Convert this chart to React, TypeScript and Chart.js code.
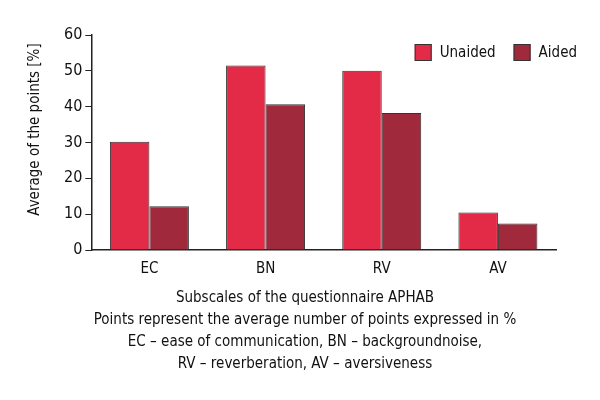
import React, { useEffect, useRef } from "react";
import { Chart, registerables } from "chart.js";

Chart.register(...registerables);

const categories = ["EC", "BN", "RV", "AV"];
const unaided = [30.2, 51.5, 50, 10.5];
const aided = [12.2, 40.7, 38.2, 7.4];
const yTicks = [0, 10, 20, 30, 40, 50, 60];
const xTitle = [
  "Subscales of the questionnaire APHAB",
  "Points represent the average number of points expressed in %",
  "EC – ease of communication, BN – backgroundnoise,",
  "RV – reverberation, AV – aversiveness",
];
const yTitle = "Average of the points [%]";

const FONT = "'DejaVu Sans Condensed', 'Liberation Sans Narrow', sans-serif";

const insideLegend = {
  id: "insideLegend",
  afterDraw(chart: any) {
    const ctx = chart.ctx;
    const area = chart.chartArea;
    const ds = chart.data.datasets;
    ctx.save();
    ctx.font = `15px ${FONT}`;
    ctx.textBaseline = "middle";
    ctx.textAlign = "left";
    const box = 17;
    const gapText = 8;
    const gapItem = 18;
    const widths = ds.map((d: any) => box + gapText + ctx.measureText(d.label).width);
    const total = widths.reduce((a: number, b: number) => a + b, 0) + gapItem * (ds.length - 1);
    let x = area.right + 21 - total;
    const y = area.top + 9;
    ds.forEach((d: any, i: number) => {
      ctx.fillStyle = d.backgroundColor;
      ctx.fillRect(x, y, box, box);
      ctx.strokeStyle = "#333";
      ctx.lineWidth = 1;
      ctx.strokeRect(x + 0.5, y + 0.5, box - 1, box - 1);
      ctx.fillStyle = "#111";
      ctx.fillText(d.label, x + box + gapText, y + box / 2 + 1);
      x += widths[i] + gapItem;
    });
    ctx.restore();
  },
};

const outerTitles = {
  id: "outerTitles",
  afterDraw(chart: any) {
    const ctx = chart.ctx;
    const area = chart.chartArea;
    ctx.save();
    ctx.font = `15px ${FONT}`;
    ctx.fillStyle = "#111";
    ctx.textAlign = "center";
    ctx.textBaseline = "middle";
    const cx = chart.width / 2 + 5;
    xTitle.forEach((line, i) => {
      ctx.fillText(line, cx, area.bottom + 48 + i * 22);
    });
    ctx.translate(35, (area.top + area.bottom) / 2 - 13);
    ctx.rotate(-Math.PI / 2);
    ctx.fillText(yTitle, 0, 0);
    ctx.restore();
  },
};

export default function App() {
  const ref = useRef<HTMLCanvasElement | null>(null);
  useEffect(() => {
    if (!ref.current) return;
    const chart = new Chart(ref.current, {
      type: "bar",
      data: {
        labels: categories,
        datasets: [
          {
            label: "Unaided",
            data: unaided,
            backgroundColor: "#e32a46",
            borderColor: "#333333",
            borderWidth: 1,
          },
          {
            label: "Aided",
            data: aided,
            backgroundColor: "#a0293c",
            borderColor: "#333333",
            borderWidth: 1,
          },
        ],
      },
      plugins: [insideLegend, outerTitles],
      options: {
        animation: false,
        responsive: false,
        layout: { padding: { top: 35, right: 44, left: 61, bottom: 112 } },
        datasets: { bar: { categoryPercentage: 0.68, barPercentage: 1 } },
        plugins: {
          legend: { display: false },
          tooltip: { enabled: false },
        },
        scales: {
          x: {
            grid: { display: false, drawTicks: false },
            border: { color: "#222", width: 1.5 },
            ticks: { font: { family: FONT, size: 15 }, color: "#111", padding: 10 },
          },
          y: {
            min: 0,
            max: 60,
            afterBuildTicks: (axis: any) => {
              axis.ticks = yTicks.map((v) => ({ value: v }));
            },
            grid: { drawOnChartArea: false, tickLength: 6, color: "#222" },
            border: { color: "#222", width: 1.5 },
            ticks: { font: { family: FONT, size: 16 }, color: "#111", padding: 3 },
          },
        },
      },
    });
    return () => chart.destroy();
  }, []);
  return (
    <div style={{ position: "fixed", left: 0, top: 0, width: 600, height: 400, background: "#fff" }}>
      <canvas ref={ref} width={600} height={400} />
    </div>
  );
}
